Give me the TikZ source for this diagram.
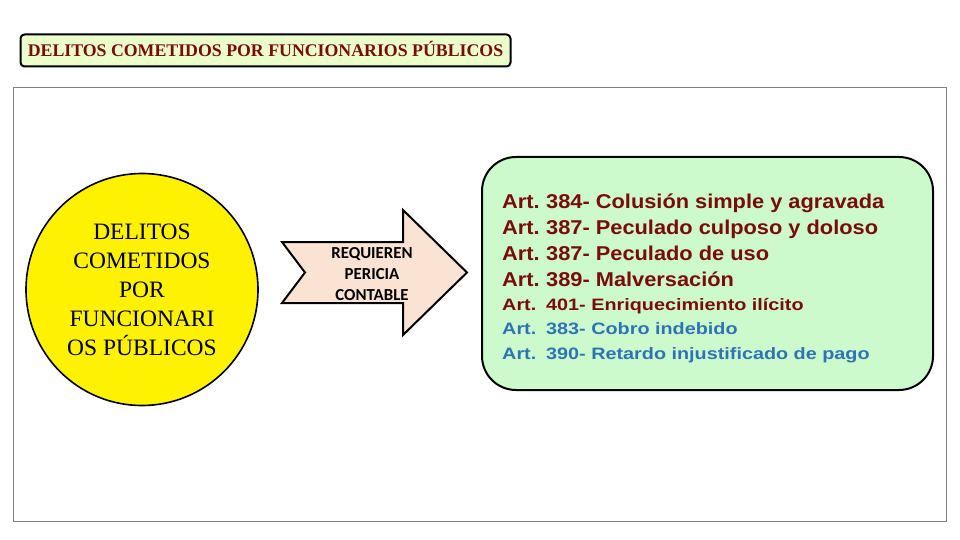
\documentclass[tikz,border=0pt]{standalone}
\usepackage{fontspec}
\setmainfont{Liberation Serif}
\newfontfamily\arialbig[FakeStretch=1.09]{Liberation Sans}
\newfontfamily\arialsmall[FakeStretch=1.2]{Liberation Sans}
\newfontfamily\calibrifont{Carlito}
\usetikzlibrary{positioning}
\definecolor{maroon}{HTML}{7A0B0B}
\definecolor{steel}{HTML}{2E74B5}
\definecolor{lime}{HTML}{EBFFCB}
\definecolor{mint}{HTML}{CDFACD}
\definecolor{peach}{HTML}{FBE3D3}
\definecolor{framegray}{HTML}{7F7F7F}
\newcommand{\artno}[1]{\makebox[44pt][l]{Art.}#1}
\tikzset{
  titlebox/.style={rectangle, rounded corners=4pt, draw=black, line width=2pt, fill=lime,
                   minimum width=490pt, minimum height=32pt, text=maroon,
                   font=\bfseries\fontsize{17.8}{20}\selectfont},
  ball/.style={circle, draw=black, line width=1.6pt, fill=yellow, minimum size=232pt,
               align=center, font=\fontsize{23.5}{29}\selectfont},
  arrowbody/.style={draw=black, line width=2pt, fill=peach, line join=miter},
  arrowlbl/.style={align=center, font=\calibrifont\bfseries\fontsize{16.8}{21}\selectfont},
  listbox/.style={rectangle, rounded corners=34pt, draw=black, line width=2pt, fill=mint,
                  minimum width=451pt, minimum height=233pt},
  artbig/.style={anchor=base west, inner sep=0pt, text=maroon,
                 font=\arialbig\bfseries\fontsize{20}{24}\selectfont},
  artsmall/.style={anchor=base west, inner sep=0pt, text=maroon,
                   font=\arialsmall\bfseries\fontsize{16.5}{21}\selectfont},
  artblue/.style={artsmall, text=steel}
}
\begin{document}
\begin{tikzpicture}[x=1pt, y=-1pt]
 \useasboundingbox (0,0) rectangle (960,540);
 \draw[framegray, line width=1pt] (13,88) rectangle (946,521);

 \node[titlebox] (title) at (265.5,50.5) {\raisebox{3pt}{DELITOS COMETIDOS POR FUNCIONARIOS PÚBLICOS}};

 \node[ball] (delitos) at (142,289.5) {DELITOS\\COMETIDOS\\POR\\FUNCIONARI\\OS PÚBLICOS};

 % arrow with notched tail
 \draw[arrowbody] (282,242) -- (403,242) -- (403,210) -- (467,272.5) -- (403,335)
   -- (403,303) -- (282,303) -- (305,272.5) -- cycle;
 \node[arrowlbl] (pericia) at (372,274) {REQUIEREN\\PERICIA\\CONTABLE};

 \node[listbox] (arts) at (707.5,273.5) {};
 \node[artbig] (a1) at (502,208) {\artno{384- Colusión simple y agravada}};
 \node[artbig] (a2) at (502,234) {\artno{387- Peculado culposo y doloso}};
 \node[artbig] (a3) at (502,260) {\artno{387- Peculado de uso}};
 \node[artbig] (a4) at (502,286) {\artno{389- Malversación}};
 \node[artsmall] (a5) at (502,310) {\artno{401- Enriquecimiento ilícito}};
 \node[artblue] (a6) at (502,334.5) {\artno{383- Cobro indebido}};
 \node[artblue] (a7) at (502,359) {\artno{390- Retardo injustificado de pago}};
\end{tikzpicture}
\end{document}
